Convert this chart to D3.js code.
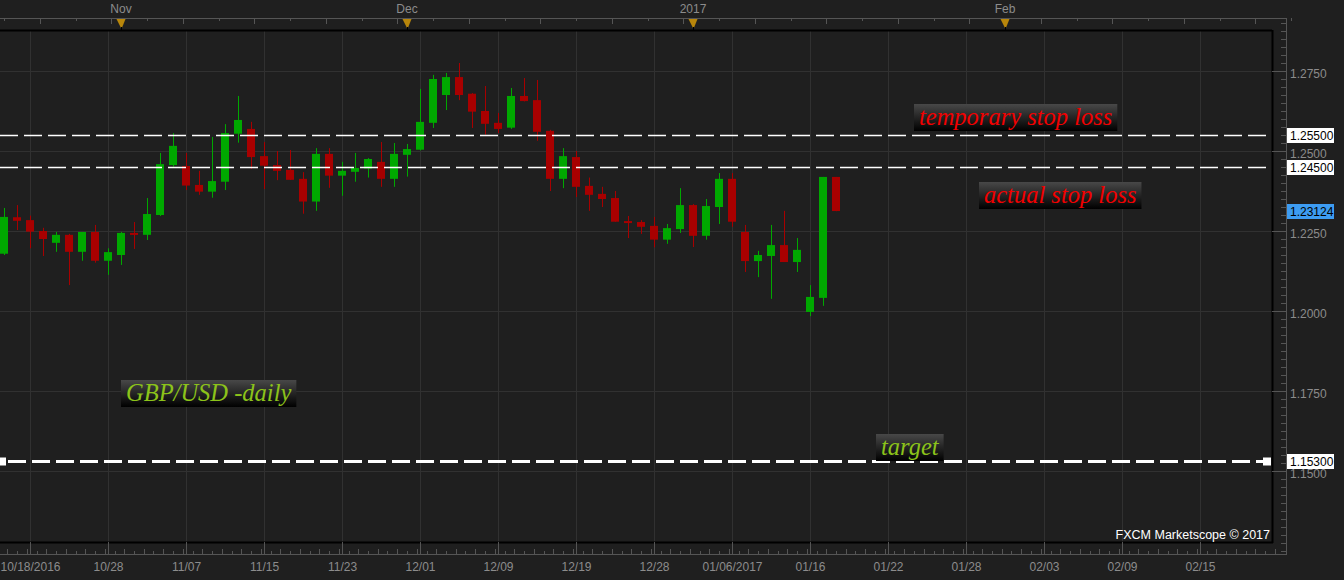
<!DOCTYPE html>
<html>
<head>
<meta charset="utf-8">
<script src="https://cdn.jsdelivr.net/npm/d3@7"></script>
<style>
  body { margin: 0; background: #1f1f1f; overflow: hidden; }
  svg { display: block; }
  .axis text { font-family: "Liberation Sans", Arial, sans-serif; font-size: 12px; fill: #8c8c8c; }
</style>
</head>
<body>
<div id="chart"></div>
<script>
const width = 1344;
const height = 580;

// daily GBP/USD candles, one per bar
const openVals  = [1.2179,1.2293,1.2284,1.2250,1.2213,1.2238,1.2185,1.2247,1.2157,1.2175,1.2244,1.2238,1.2300,1.2456,1.2453,1.2394,1.2373,1.2404,1.2554,1.2569,1.2484,1.2456,1.2441,1.2413,1.2342,1.2491,1.2423,1.2435,1.2445,1.2466,1.2413,1.2488,1.2504,1.2588,1.2675,1.2731,1.2679,1.2625,1.2588,1.2573,1.2672,1.2659,1.2563,1.2413,1.2481,1.2391,1.2366,1.2353,1.2281,1.2278,1.2266,1.2223,1.2256,1.2331,1.2235,1.2325,1.2413,1.2247,1.2156,1.2172,1.2206,1.2153,1.1997,1.2041,1.2419];
const highVals  = [1.2322,1.2331,1.2298,1.2260,1.2247,1.2241,1.2247,1.2269,1.2196,1.2247,1.2278,1.2353,1.2494,1.2556,1.2494,1.2438,1.2544,1.2584,1.2672,1.2591,1.2528,1.2500,1.2503,1.2434,1.2509,1.2509,1.2466,1.2494,1.2478,1.2528,1.2525,1.2522,1.2694,1.2738,1.2744,1.2775,1.2681,1.2703,1.2619,1.2697,1.2728,1.2722,1.2566,1.2509,1.2500,1.2417,1.2388,1.2375,1.2297,1.2284,1.2294,1.2272,1.2384,1.2334,1.2350,1.2431,1.2431,1.2269,1.2188,1.2269,1.2313,1.2228,1.2081,1.2419,1.2419];
const lowVals   = [1.2175,1.2253,1.2196,1.2172,1.2185,1.2081,1.2157,1.2151,1.2113,1.2144,1.2194,1.2222,1.2297,1.2451,1.2378,1.2363,1.2354,1.2378,1.2526,1.2444,1.2381,1.2409,1.2410,1.2304,1.2313,1.2385,1.2360,1.2404,1.2417,1.2388,1.2388,1.2420,1.2502,1.2572,1.2628,1.2659,1.2572,1.2551,1.2556,1.2569,1.2655,1.2532,1.2375,1.2384,1.2356,1.2313,1.2325,1.2279,1.2228,1.2241,1.2199,1.2210,1.2244,1.2200,1.2223,1.2272,1.2263,1.2122,1.2106,1.2038,1.2153,1.2122,1.1984,1.2016,1.2312];
const closeVals = [1.2294,1.2282,1.2248,1.2225,1.2238,1.2185,1.2247,1.2157,1.2184,1.2244,1.2238,1.2303,1.2459,1.2516,1.2392,1.2373,1.2406,1.2556,1.2597,1.2481,1.2454,1.2438,1.2410,1.2342,1.2491,1.2423,1.2438,1.2447,1.2475,1.2413,1.2491,1.2506,1.2591,1.2725,1.2731,1.2675,1.2623,1.2585,1.2569,1.2672,1.2656,1.2560,1.2413,1.2484,1.2388,1.2363,1.2350,1.2279,1.2275,1.2263,1.2223,1.2259,1.2331,1.2235,1.2328,1.2413,1.2279,1.2156,1.2175,1.2206,1.2153,1.2191,1.2044,1.2419,1.23124];

// bottom axis labels and the bar they sit on
const dateLabels = ["10/18/2016","10/28","11/07","11/15","11/23","12/01","12/09","12/19","12/28","01/06/2017","01/16","01/22","01/28","02/03","02/09","02/15"];
const dateBars   = [2,8,14,20,26,32,38,44,50,56,62,68,74,80,86,92];

// month markers on the top strip
const monthLabels = ["Nov","Dec","2017","Feb"];
const monthBars   = [9,31,53,77];

// price levels drawn as dashed lines
const levelNames  = ["temporary stop loss","actual stop loss","target"];
const levelPrices = [1.255, 1.245, 1.153];
const lastPrice = 1.23124;

const priceTicks = [1.15, 1.175, 1.2, 1.225, 1.25, 1.275];

const plot = { left: 0, right: 1272, top: 31, bottom: 542 };
const axisX = 1286, topLine = 18, bottomLine = 554;

const x = d3.scaleLinear().domain([0, 97.5]).range([4, 4 + 13 * 97.5]);
const y = d3.scaleLinear().domain([1.15, 1.275]).range([471, 71]);

const svg = d3.select('#chart').append('svg')
  .attr('width', width)
  .attr('height', height);

svg.append('rect').attr('width', width).attr('height', height).attr('fill', '#1f1f1f');

const defs = svg.append('defs');
const grad = defs.append('linearGradient').attr('id', 'boxGrad')
  .attr('x1', 0).attr('y1', 0).attr('x2', 0).attr('y2', 1);
grad.append('stop').attr('offset', '0%').attr('stop-color', '#484848');
grad.append('stop').attr('offset', '100%').attr('stop-color', '#000');

defs.append('clipPath').attr('id', 'plotClip')
  .append('rect')
  .attr('x', plot.left).attr('y', plot.top)
  .attr('width', plot.right - plot.left).attr('height', plot.bottom - plot.top);

/* grid */
const grid = svg.append('g').attr('clip-path', 'url(#plotClip)');
grid.selectAll('line.h')
  .data(priceTicks)
  .enter().append('line')
  .attr('x1', plot.left).attr('x2', plot.right)
  .attr('y1', d => Math.round(y(d)) + 0.5).attr('y2', d => Math.round(y(d)) + 0.5)
  .attr('stroke', '#313131');
grid.selectAll('line.v')
  .data(dateBars)
  .enter().append('line')
  .attr('x1', d => Math.round(x(d)) + 0.5).attr('x2', d => Math.round(x(d)) + 0.5)
  .attr('y1', plot.top).attr('y2', plot.bottom)
  .attr('stroke', '#313131');

/* plot frame */
svg.append('line').attr('x1', 0).attr('x2', plot.right).attr('y1', plot.top - 0.5).attr('y2', plot.top - 0.5)
  .attr('stroke', '#000').attr('stroke-width', 2);
svg.append('line').attr('x1', 0).attr('x2', plot.right + 1).attr('y1', plot.bottom + 0.5).attr('y2', plot.bottom + 0.5)
  .attr('stroke', '#000').attr('stroke-width', 2);
svg.append('line').attr('x1', plot.right + 0.5).attr('x2', plot.right + 0.5).attr('y1', plot.top - 1).attr('y2', plot.bottom + 1)
  .attr('stroke', '#000').attr('stroke-width', 2);

/* candles */
const candles = d3.range(openVals.length).map(i => ({
  i: i, o: openVals[i], h: highVals[i], l: lowVals[i], c: closeVals[i]
}));
const up = '#00a800', down = '#a80000';

const cell = svg.append('g').attr('clip-path', 'url(#plotClip)')
  .selectAll('g')
  .data(candles)
  .enter().append('g');

cell.append('rect')
  .attr('x', d => Math.round(x(d.i)))
  .attr('width', 1)
  .attr('y', d => y(d.h))
  .attr('height', d => Math.max(1, y(d.l) - y(d.h)))
  .attr('fill', d => d.c >= d.o ? up : down);

cell.append('rect')
  .attr('x', d => Math.round(x(d.i)) - 4)
  .attr('width', 8)
  .attr('y', d => Math.min(y(d.o), y(d.c)))
  .attr('height', d => Math.max(2, Math.abs(y(d.o) - y(d.c))))
  .attr('fill', d => d.c >= d.o ? up : down);

/* dashed levels */
const levels = levelPrices.map((p, k) => ({ p: p, name: levelNames[k], target: k === 2 }));
svg.selectAll('line.level')
  .data(levels)
  .enter().append('line')
  .attr('x1', d => d.target ? 8 : 0)
  .attr('x2', d => d.target ? 1263 : 1266)
  .attr('y1', d => Math.round(y(d.p)) + 0.5)
  .attr('y2', d => Math.round(y(d.p)) + 0.5)
  .attr('stroke', '#fff')
  .attr('stroke-width', d => d.target ? 3 : 1.6)
  .attr('stroke-dasharray', '18,6');

[2, 1267].forEach(cx => {
  svg.append('rect')
    .attr('x', cx - 4).attr('y', Math.round(y(levelPrices[2])) - 3.5)
    .attr('width', 8).attr('height', 8).attr('fill', '#fff');
});

/* top strip */
svg.append('line').attr('x1', 0).attr('x2', axisX).attr('y1', topLine + 0.5).attr('y2', topLine + 0.5)
  .attr('stroke', '#555');
const topTicks = d3.range(0, 100, 2.75);
svg.selectAll('line.toptick')
  .data(topTicks)
  .enter().append('line')
  .attr('x1', d => Math.round(x(d)) + 0.5).attr('x2', d => Math.round(x(d)) + 0.5)
  .attr('y1', topLine).attr('y2', (d, k) => topLine + (k % 2 ? 6 : 3))
  .attr('stroke', '#555');

const marker = svg.append('g').selectAll('g')
  .data(monthBars)
  .enter().append('g')
  .attr('transform', d => 'translate(' + Math.round(x(d)) + ',0)');
marker.append('path')
  .attr('d', 'M-4.5,19 L4.5,19 L0.5,29 Z')
  .attr('fill', '#b8860b');
marker.append('line')
  .attr('x1', 0.5).attr('x2', 0.5).attr('y1', 27).attr('y2', 31)
  .attr('stroke', '#000');
marker.append('text')
  .attr('x', 0).attr('y', 13)
  .attr('text-anchor', 'middle')
  .attr('font-family', '"Liberation Sans", Arial, sans-serif')
  .attr('font-size', 12)
  .attr('fill', '#8c8c8c')
  .text((d, k) => monthLabels[k]);

/* bottom axis */
const xAxis = d3.axisBottom(x)
  .tickValues(dateBars)
  .tickFormat((d, k) => dateLabels[k])
  .tickSizeInner(-(bottomLine - plot.bottom))
  .tickSizeOuter(0)
  .tickPadding(6);
const gx = svg.append('g').attr('class', 'axis')
  .attr('transform', 'translate(0,' + bottomLine + ')')
  .call(xAxis);
gx.select('.domain').attr('stroke', '#555').attr('d', 'M0,0.5H' + axisX);
gx.selectAll('.tick line').attr('stroke', '#555');
gx.selectAll('.tick text').attr('dy', '0.9em');

const minorX = d3.range(-0.5, 98, 0.75);
svg.selectAll('line.minx')
  .data(minorX)
  .enter().append('line')
  .attr('x1', d => Math.round(x(d)) + 0.5).attr('x2', d => Math.round(x(d)) + 0.5)
  .attr('y1', (d, k) => bottomLine - (k % 2 ? 5 : 3)).attr('y2', bottomLine)
  .attr('stroke', '#555');

/* right price axis */
svg.append('line').attr('x1', axisX + 0.5).attr('x2', axisX + 0.5)
  .attr('y1', topLine).attr('y2', bottomLine + 1).attr('stroke', '#555');

const minorPrices = d3.range(1.125, 1.2901, 0.0025);
svg.selectAll('line.miny')
  .data(minorPrices)
  .enter().append('line')
  .attr('x1', axisX - 5).attr('x2', axisX)
  .attr('y1', d => Math.round(y(d)) + 0.5).attr('y2', d => Math.round(y(d)) + 0.5)
  .attr('stroke', '#555');

const yAxis = d3.axisRight(y)
  .tickValues(priceTicks)
  .tickFormat(d3.format('.4f'))
  .tickSizeInner(-(axisX - plot.right))
  .tickSizeOuter(0)
  .tickPadding(4);
const gy = svg.append('g').attr('class', 'axis')
  .attr('transform', 'translate(' + axisX + ',0)')
  .call(yAxis);
gy.select('.domain').remove();
gy.selectAll('.tick line').attr('stroke', '#555');
gy.selectAll('.tick text').attr('dy', '0.55em');

/* price badges */
const badges = levelPrices.map(p => ({ p: p, fill: '#fff' }))
  .concat([{ p: lastPrice, fill: '#3d9cf2' }]);
const badge = svg.append('g').selectAll('g')
  .data(badges)
  .enter().append('g')
  .attr('transform', d => 'translate(' + (axisX + 1) + ',' + Math.round(y(d.p)) + ')');
badge.append('rect')
  .attr('x', 0).attr('y', -7).attr('width', 47).attr('height', 15)
  .attr('fill', d => d.fill);
badge.append('text')
  .attr('x', 3).attr('y', 5)
  .attr('font-family', '"Liberation Sans", Arial, sans-serif')
  .attr('font-size', 12)
  .attr('fill', '#000')
  .text(d => d3.format('.5f')(d.p));

/* annotation boxes */
const notes = [
  { text: 'temporary stop loss', left: 914, top: 104, color: '#f20000' },
  { text: 'actual stop loss', left: 979, top: 182, color: '#f20000' },
  { text: 'GBP/USD -daily', left: 121, top: 380, color: '#8cc31a' },
  { text: 'target', left: 876, top: 434, color: '#8cc31a' }
];
const note = svg.append('g').selectAll('g')
  .data(notes)
  .enter().append('g')
  .attr('transform', d => 'translate(' + d.left + ',' + d.top + ')');
note.append('rect')
  .attr('height', 27)
  .attr('fill', 'url(#boxGrad)');
note.append('text')
  .attr('x', 5).attr('y', 21)
  .attr('font-family', '"Liberation Serif", "Times New Roman", serif')
  .attr('font-style', 'italic')
  .attr('font-size', 24.5)
  .attr('fill', d => d.color)
  .text(d => d.text);
note.each(function () {
  const w = d3.select(this).select('text').node().getComputedTextLength();
  d3.select(this).select('rect').attr('width', w + 10);
});

svg.append('text')
  .attr('x', 1270).attr('y', 539)
  .attr('text-anchor', 'end')
  .attr('font-family', '"Liberation Sans", Arial, sans-serif')
  .attr('font-size', 12.5)
  .attr('fill', '#fff')
  .text('FXCM Marketscope \u00a9 2017');
</script>
</body>
</html>
